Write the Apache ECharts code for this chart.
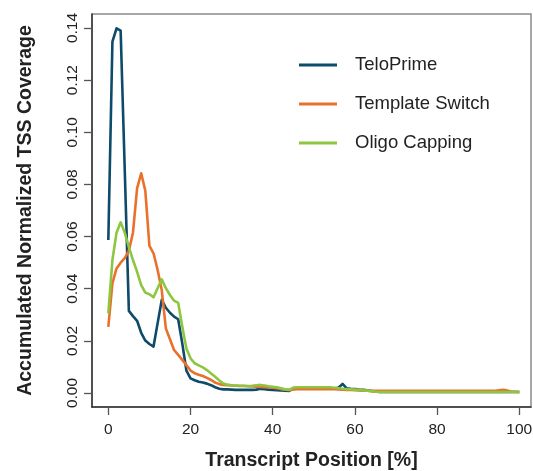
<!DOCTYPE html>
<html>
<head>
<meta charset="utf-8">
<script src="https://cdn.jsdelivr.net/npm/echarts@6/dist/echarts.min.js"></script>
<style>
html,body{margin:0;padding:0;background:#fff;}
#chart{width:533px;height:471px;}
</style>
</head>
<body>
<div id="chart"></div>
<script>
// Transcript position (%) of each bin
const positions = [
  0,1,2,3,4,5,6,7,8,9,
  10,11,12,13,14,15,16,17,18,19,
  20,21,22,23,24,25,26,27,28,29,
  30,31,32,33,34,35,36,37,38,39,
  40,41,42,43,44,45,46,47,48,49,
  50,51,52,53,54,55,56,57,58,59,
  60,61,62,63,64,65,66,67,68,69,
  70,71,72,73,74,75,76,77,78,79,
  80,81,82,83,84,85,86,87,88,89,
  90,91,92,93,94,95,96,97,98,99,
  100
];

const teloPrime = [
  0.0587,0.1348,0.1399,0.1390,0.0855,0.0315,0.0295,0.0277,0.0231,0.0201,
  0.0188,0.0178,0.0268,0.0357,0.0327,0.0308,0.0293,0.0283,0.0190,0.0086,
  0.0056,0.0049,0.0043,0.0040,0.0036,0.0030,0.0022,0.0016,0.0014,0.0014,
  0.0013,0.0012,0.0012,0.0012,0.0012,0.0012,0.0013,0.0016,0.0015,0.0013,
  0.0012,0.0011,0.0010,0.0009,0.0008,0.0016,0.0017,0.0017,0.0018,0.0018,
  0.0018,0.0018,0.0018,0.0018,0.0018,0.0018,0.0020,0.0035,0.0018,0.0016,
  0.0015,0.0013,0.0012,0.0010,0.0008,0.0006,0.0004,0.0004,0.0004,0.0004,
  0.0004,0.0004,0.0004,0.0004,0.0004,0.0004,0.0004,0.0004,0.0004,0.0004,
  0.0004,0.0004,0.0004,0.0004,0.0004,0.0004,0.0004,0.0004,0.0004,0.0004,
  0.0004,0.0004,0.0004,0.0004,0.0004,0.0004,0.0004,0.0004,0.0004,0.0004,
  0.0004
];

const templateSwitch = [
  0.0254,0.0421,0.0478,0.0500,0.0517,0.0546,0.0615,0.0785,0.0843,0.0776,
  0.0564,0.0536,0.0472,0.0395,0.0248,0.0206,0.0165,0.0146,0.0127,0.0107,
  0.0086,0.0076,0.0070,0.0065,0.0058,0.0050,0.0040,0.0034,0.0031,0.0030,
  0.0029,0.0028,0.0027,0.0027,0.0026,0.0025,0.0024,0.0023,0.0022,0.0021,
  0.0020,0.0018,0.0015,0.0013,0.0012,0.0014,0.0015,0.0015,0.0015,0.0015,
  0.0015,0.0015,0.0015,0.0015,0.0015,0.0015,0.0014,0.0013,0.0012,0.0012,
  0.0011,0.0010,0.0009,0.0009,0.0008,0.0008,0.0008,0.0008,0.0008,0.0008,
  0.0008,0.0008,0.0008,0.0008,0.0008,0.0008,0.0008,0.0008,0.0008,0.0008,
  0.0008,0.0008,0.0008,0.0008,0.0008,0.0008,0.0008,0.0008,0.0008,0.0008,
  0.0008,0.0008,0.0008,0.0008,0.0008,0.0010,0.0012,0.0010,0.0006,0.0005,
  0.0004
];

const oligoCapping = [
  0.0306,0.0510,0.0615,0.0655,0.0615,0.0559,0.0510,0.0465,0.0414,0.0385,
  0.0379,0.0367,0.0402,0.0436,0.0402,0.0376,0.0354,0.0346,0.0254,0.0171,
  0.0133,0.0114,0.0106,0.0098,0.0088,0.0075,0.0062,0.0048,0.0036,0.0032,
  0.0030,0.0029,0.0028,0.0028,0.0027,0.0028,0.0030,0.0031,0.0029,0.0026,
  0.0024,0.0022,0.0018,0.0014,0.0012,0.0021,0.0022,0.0022,0.0022,0.0022,
  0.0022,0.0022,0.0022,0.0022,0.0022,0.0020,0.0018,0.0016,0.0015,0.0014,
  0.0013,0.0012,0.0010,0.0009,0.0007,0.0005,0.0004,0.0004,0.0004,0.0004,
  0.0004,0.0004,0.0004,0.0004,0.0004,0.0004,0.0004,0.0004,0.0004,0.0004,
  0.0004,0.0004,0.0004,0.0004,0.0004,0.0004,0.0004,0.0004,0.0004,0.0004,
  0.0004,0.0004,0.0004,0.0004,0.0004,0.0004,0.0004,0.0004,0.0004,0.0004,
  0.0004
];

const seriesNames = ['TeloPrime', 'Template Switch', 'Oligo Capping'];
const seriesColors = ['#0e4a6a', '#e8712b', '#8dc641'];
const xTicks = [0, 20, 40, 60, 80, 100];
const yTicks = [0, 0.02, 0.04, 0.06, 0.08, 0.10, 0.12, 0.14];

const FONT = "'Liberation Sans', Arial, Helvetica, sans-serif";
const chart = echarts.init(document.getElementById('chart'), null, {renderer: 'canvas'});

function mk(name, vals, color, z) {
  return {
    name: name,
    type: 'line',
    data: positions.map((x, i) => [x, vals[i]]),
    symbol: 'none',
    showSymbol: false,
    z: z,
    lineStyle: {color: color, width: 2.6, join: 'round'},
    itemStyle: {color: color},
    emphasis: {disabled: true},
    animation: false
  };
}

chart.setOption({
  backgroundColor: '#fff',
  animation: false,
  grid: {
    left: 92, right: 2, top: 14, bottom: 64,
    containLabel: false,
    outerBoundsMode: 'none',
    show: true, borderColor: '#8a8a8a', borderWidth: 1.5,
    backgroundColor: 'transparent'
  },
  legend: {
    orient: 'vertical',
    left: 294, top: 50,
    icon: 'rect',
    itemWidth: 38, itemHeight: 3,
    itemGap: 19,
    data: seriesNames,
    textStyle: {fontFamily: FONT, fontSize: 18.5, color: '#222', lineHeight: 20, padding: [0, 0, 0, 13]},
    selectedMode: false
  },
  xAxis: {
    type: 'value',
    min: -3.97, max: 102.85,
    axisLine: {show: true, onZero: false, lineStyle: {color: '#333', width: 1.5}},
    axisTick: {show: true, length: 8, customValues: xTicks, lineStyle: {color: '#555', width: 1.3}},
    axisLabel: {customValues: xTicks, margin: 15, fontFamily: FONT, fontSize: 15.5, color: '#222'},
    splitLine: {show: false},
    name: 'Transcript Position [%]',
    nameLocation: 'middle',
    nameGap: 44,
    nameTextStyle: {fontFamily: FONT, fontSize: 19.5, fontWeight: 'bold', color: '#222'}
  },
  yAxis: {
    type: 'value',
    min: -0.00537, max: 0.14538,
    axisLine: {show: true, onZero: false, lineStyle: {color: '#333', width: 1.5}},
    axisTick: {show: true, length: 8, customValues: yTicks, lineStyle: {color: '#555', width: 1.3}},
    axisLabel: {
      customValues: yTicks, margin: 11, rotate: 90,
      fontFamily: FONT, fontSize: 15.5, color: '#222',
      formatter: v => v.toFixed(2)
    },
    splitLine: {show: false},
    name: 'Accumulated Normalized TSS Coverage',
    nameLocation: 'middle',
    nameGap: 56,
    nameRotate: 90,
    nameTextStyle: {fontFamily: FONT, fontSize: 19.5, fontWeight: 'bold', color: '#222'}
  },
  series: [
    mk(seriesNames[0], teloPrime, seriesColors[0], 2),
    mk(seriesNames[1], templateSwitch, seriesColors[1], 3),
    mk(seriesNames[2], oligoCapping, seriesColors[2], 4)
  ]
});
</script>
</body>
</html>
